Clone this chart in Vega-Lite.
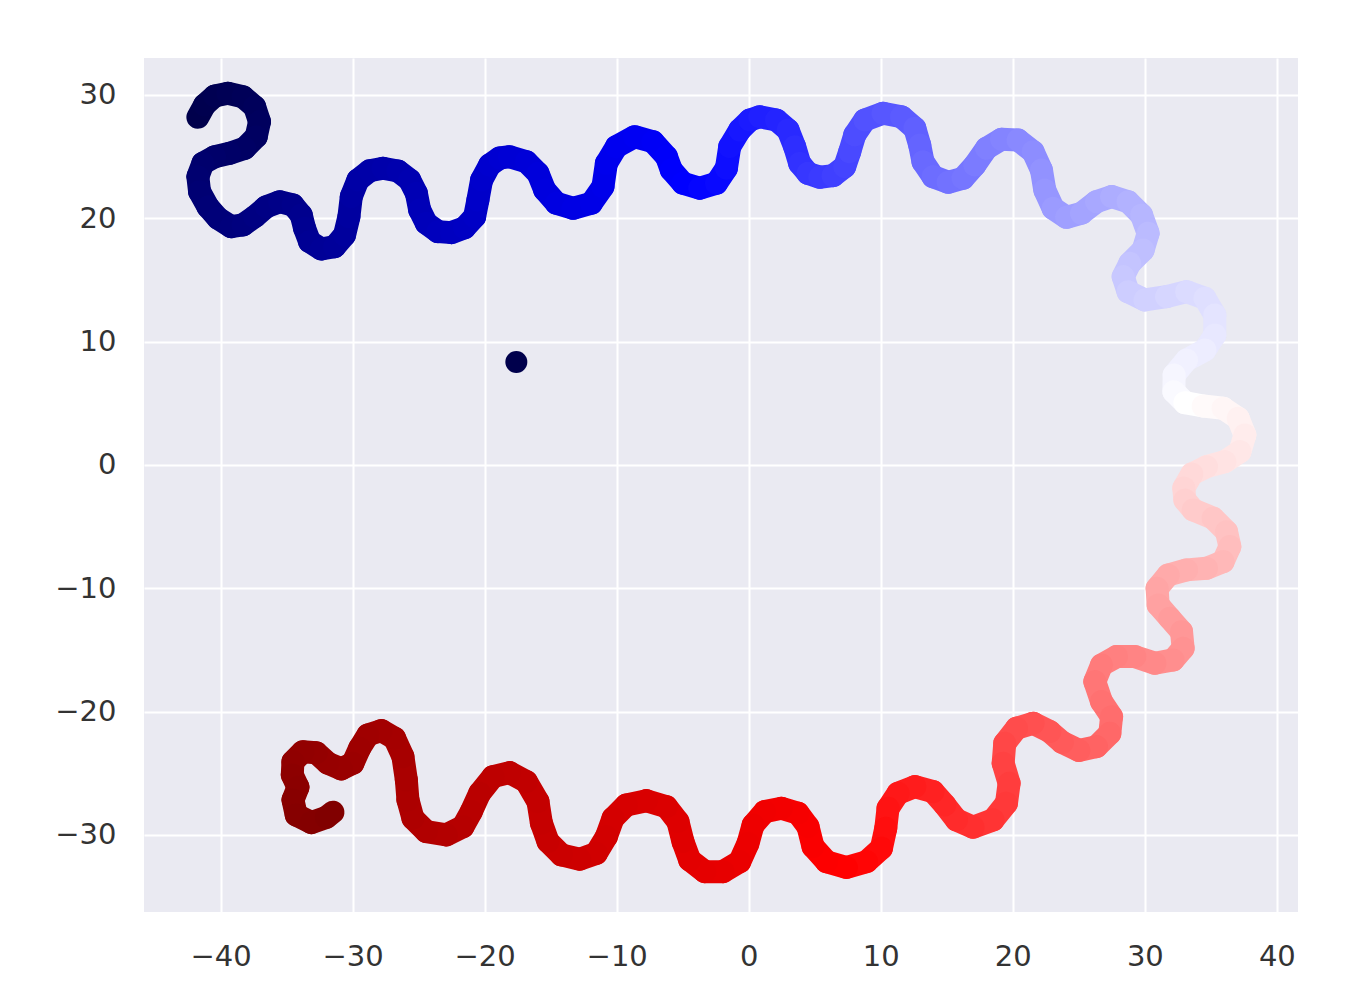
{
  "$schema": "https://vega.github.io/schema/vega-lite/v6.json",
  "width": 1154,
  "height": 854,
  "autosize": {"type": "none"},
  "padding": {"left": 144, "top": 58, "right": 55, "bottom": 95},
  "background": "white",
  "config": {
    "view": {"fill": "#eaeaf2", "stroke": null},
    "axis": {
      "domain": false,
      "ticks": false,
      "grid": true,
      "gridColor": "#ffffff",
      "gridWidth": 2,
      "labelFont": "DejaVu Sans",
      "labelFontSize": 29,
      "labelColor": "#333333",
      "title": null
    }
  },
  "datasets": {
    "path": [
      {"i":0,"x":-41.72,"y":28.19},{"i":1,"x":-41.21,"y":29.19},{"i":2,"x":-40.45,"y":29.92},{"i":3,"x":-39.45,"y":30.14},
      {"i":4,"x":-38.31,"y":29.86},{"i":5,"x":-37.42,"y":29.05},{"i":6,"x":-37.05,"y":27.84},{"i":7,"x":-37.3,"y":26.62},
      {"i":8,"x":-38.18,"y":25.68},{"i":9,"x":-39.32,"y":25.27},{"i":10,"x":-40.45,"y":25.0},{"i":11,"x":-41.34,"y":24.46},
      {"i":12,"x":-41.72,"y":23.38},{"i":13,"x":-41.59,"y":22.16},{"i":14,"x":-40.96,"y":20.94},{"i":15,"x":-40.2,"y":20.0},
      {"i":16,"x":-39.19,"y":19.32},{"i":17,"x":-38.31,"y":19.46},{"i":18,"x":-37.42,"y":20.13},{"i":19,"x":-36.54,"y":20.94},
      {"i":20,"x":-35.53,"y":21.35},{"i":21,"x":-34.52,"y":21.08},{"i":22,"x":-33.89,"y":20.27},{"i":23,"x":-33.64,"y":19.19},
      {"i":24,"x":-33.26,"y":18.11},{"i":25,"x":-32.37,"y":17.51},{"i":26,"x":-31.36,"y":17.7},{"i":27,"x":-30.61,"y":18.65},
      {"i":28,"x":-30.28,"y":20.13},{"i":29,"x":-30.1,"y":21.76},{"i":30,"x":-29.6,"y":23.11},{"i":31,"x":-28.71,"y":23.86},
      {"i":32,"x":-27.7,"y":24.06},{"i":33,"x":-26.57,"y":23.84},{"i":34,"x":-25.68,"y":23.11},{"i":35,"x":-25.17,"y":22.03},
      {"i":36,"x":-24.92,"y":20.68},{"i":37,"x":-24.42,"y":19.6},{"i":38,"x":-23.54,"y":18.92},{"i":39,"x":-22.52,"y":18.84},
      {"i":40,"x":-21.52,"y":19.24},{"i":41,"x":-20.76,"y":20.13},{"i":42,"x":-20.51,"y":21.49},{"i":43,"x":-20.23,"y":23.11},
      {"i":44,"x":-19.62,"y":24.32},{"i":45,"x":-18.86,"y":24.89},{"i":46,"x":-18.11,"y":25.0},{"i":47,"x":-16.84,"y":24.59},
      {"i":48,"x":-15.96,"y":23.65},{"i":49,"x":-15.45,"y":22.3},{"i":50,"x":-14.57,"y":21.22},{"i":51,"x":-13.31,"y":20.81},
      {"i":52,"x":-11.92,"y":21.22},{"i":53,"x":-11.04,"y":22.57},{"i":54,"x":-10.78,"y":24.46},{"i":55,"x":-10.02,"y":25.81},
      {"i":56,"x":-8.64,"y":26.62},{"i":57,"x":-7.25,"y":26.21},{"i":58,"x":-6.23,"y":25.0},{"i":59,"x":-5.86,"y":23.92},
      {"i":60,"x":-4.98,"y":22.84},{"i":61,"x":-3.71,"y":22.44},{"i":62,"x":-2.45,"y":22.84},{"i":63,"x":-1.69,"y":24.06},
      {"i":64,"x":-1.44,"y":25.81},{"i":65,"x":-0.68,"y":27.16},{"i":66,"x":0.08,"y":27.97},{"i":67,"x":0.83,"y":28.24},
      {"i":68,"x":2.1,"y":27.97},{"i":69,"x":2.98,"y":27.16},{"i":70,"x":3.48,"y":25.81},{"i":71,"x":3.86,"y":24.46},
      {"i":72,"x":4.49,"y":23.65},{"i":73,"x":5.38,"y":23.33},{"i":74,"x":6.39,"y":23.46},{"i":75,"x":7.27,"y":24.19},
      {"i":76,"x":7.65,"y":25.4},{"i":77,"x":8.03,"y":26.76},{"i":78,"x":8.79,"y":27.97},{"i":79,"x":10.17,"y":28.52},
      {"i":80,"x":11.57,"y":28.24},{"i":81,"x":12.58,"y":27.3},{"i":82,"x":12.95,"y":25.95},{"i":83,"x":13.2,"y":24.59},
      {"i":84,"x":13.96,"y":23.38},{"i":85,"x":15.1,"y":22.92},{"i":86,"x":16.23,"y":23.25},{"i":87,"x":17.12,"y":24.32},
      {"i":88,"x":18.01,"y":25.68},{"i":89,"x":19.14,"y":26.41},{"i":90,"x":20.4,"y":26.35},{"i":91,"x":21.54,"y":25.4},
      {"i":92,"x":22.17,"y":23.92},{"i":93,"x":22.42,"y":22.3},{"i":94,"x":23.05,"y":20.81},{"i":95,"x":24.07,"y":20.08},
      {"i":96,"x":25.2,"y":20.41},{"i":97,"x":26.34,"y":21.35},{"i":98,"x":27.48,"y":21.76},{"i":99,"x":28.73,"y":21.35},
      {"i":100,"x":29.75,"y":20.27},{"i":101,"x":30.25,"y":18.79},{"i":102,"x":29.87,"y":17.43},{"i":103,"x":28.86,"y":16.35},
      {"i":104,"x":28.36,"y":15.27},{"i":105,"x":28.73,"y":14.05},{"i":106,"x":30.0,"y":13.38},{"i":107,"x":31.64,"y":13.65},
      {"i":108,"x":33.16,"y":14.05},{"i":109,"x":34.55,"y":13.52},{"i":110,"x":35.3,"y":12.16},{"i":111,"x":35.3,"y":10.54},
      {"i":112,"x":34.55,"y":9.32},{"i":113,"x":33.16,"y":8.51},{"i":114,"x":32.22,"y":7.3},{"i":115,"x":32.2,"y":5.94},
      {"i":116,"x":33.03,"y":5.05},{"i":117,"x":34.42,"y":4.78},{"i":118,"x":35.93,"y":4.6},{"i":119,"x":37.07,"y":3.79},
      {"i":120,"x":37.58,"y":2.43},{"i":121,"x":37.2,"y":1.08},{"i":122,"x":36.06,"y":0.27},{"i":123,"x":34.67,"y":-0.14},
      {"i":124,"x":33.56,"y":-0.73},{"i":125,"x":32.95,"y":-1.86},{"i":126,"x":33.03,"y":-2.84},{"i":127,"x":33.66,"y":-3.65},
      {"i":128,"x":35.17,"y":-4.32},{"i":129,"x":36.19,"y":-5.41},{"i":130,"x":36.44,"y":-6.62},{"i":131,"x":35.93,"y":-7.84},
      {"i":132,"x":34.67,"y":-8.38},{"i":133,"x":33.16,"y":-8.51},{"i":134,"x":31.77,"y":-8.92},{"i":135,"x":30.93,"y":-10.0},
      {"i":136,"x":31.01,"y":-11.35},{"i":137,"x":31.89,"y":-12.43},{"i":138,"x":32.78,"y":-13.52},{"i":139,"x":32.9,"y":-14.86},
      {"i":140,"x":32.14,"y":-15.81},{"i":141,"x":30.76,"y":-16.08},{"i":142,"x":29.24,"y":-15.54},{"i":143,"x":27.86,"y":-15.54},
      {"i":144,"x":26.72,"y":-16.22},{"i":145,"x":26.21,"y":-17.57},{"i":146,"x":26.72,"y":-19.19},{"i":147,"x":27.48,"y":-20.41},
      {"i":148,"x":27.35,"y":-21.76},{"i":149,"x":26.34,"y":-22.84},{"i":150,"x":25.0,"y":-23.15},{"i":151,"x":23.75,"y":-22.5},
      {"i":152,"x":22.8,"y":-21.62},{"i":153,"x":21.54,"y":-20.94},{"i":154,"x":20.28,"y":-21.35},{"i":155,"x":19.39,"y":-22.57},
      {"i":156,"x":19.27,"y":-24.19},{"i":157,"x":19.72,"y":-25.81},{"i":158,"x":19.52,"y":-27.43},{"i":159,"x":18.51,"y":-28.78},
      {"i":160,"x":16.99,"y":-29.38},{"i":161,"x":15.73,"y":-28.78},{"i":162,"x":14.85,"y":-27.57},{"i":163,"x":13.96,"y":-26.49},
      {"i":164,"x":12.58,"y":-26.08},{"i":165,"x":11.31,"y":-26.62},{"i":166,"x":10.55,"y":-27.84},{"i":167,"x":10.38,"y":-29.46},
      {"i":168,"x":10.05,"y":-31.08},{"i":169,"x":8.92,"y":-32.17},{"i":170,"x":7.4,"y":-32.64},{"i":171,"x":5.89,"y":-32.17},
      {"i":172,"x":4.87,"y":-30.95},{"i":173,"x":4.49,"y":-29.33},{"i":174,"x":3.73,"y":-28.24},{"i":175,"x":2.48,"y":-27.84},
      {"i":176,"x":1.21,"y":-28.11},{"i":177,"x":0.33,"y":-29.19},{"i":178,"x":-0.05,"y":-30.67},{"i":179,"x":-0.68,"y":-32.17},
      {"i":180,"x":-1.95,"y":-32.98},{"i":181,"x":-3.33,"y":-32.98},{"i":182,"x":-4.47,"y":-32.03},{"i":183,"x":-4.98,"y":-30.54},
      {"i":184,"x":-5.36,"y":-28.92},{"i":185,"x":-6.23,"y":-27.71},{"i":186,"x":-7.75,"y":-27.22},{"i":187,"x":-9.27,"y":-27.57},
      {"i":188,"x":-10.28,"y":-28.65},{"i":189,"x":-10.78,"y":-30.14},{"i":190,"x":-11.54,"y":-31.49},{"i":191,"x":-12.8,"y":-31.97},
      {"i":192,"x":-14.19,"y":-31.62},{"i":193,"x":-15.2,"y":-30.54},{"i":194,"x":-15.7,"y":-29.05},{"i":195,"x":-15.96,"y":-27.3},
      {"i":196,"x":-16.84,"y":-25.68},{"i":197,"x":-18.11,"y":-24.95},{"i":198,"x":-19.37,"y":-25.27},{"i":199,"x":-20.38,"y":-26.62},
      {"i":200,"x":-21.01,"y":-28.11},{"i":201,"x":-21.64,"y":-29.33},{"i":202,"x":-22.9,"y":-30.0},{"i":203,"x":-24.42,"y":-29.73},
      {"i":204,"x":-25.43,"y":-28.65},{"i":205,"x":-25.81,"y":-27.16},{"i":206,"x":-25.93,"y":-25.54},{"i":207,"x":-26.19,"y":-23.65},
      {"i":208,"x":-26.82,"y":-22.16},{"i":209,"x":-27.83,"y":-21.54},{"i":210,"x":-28.84,"y":-21.89},{"i":211,"x":-29.47,"y":-22.97},
      {"i":212,"x":-29.98,"y":-24.19},{"i":213,"x":-30.86,"y":-24.65},{"i":214,"x":-31.87,"y":-24.19},{"i":215,"x":-32.75,"y":-23.33},
      {"i":216,"x":-33.77,"y":-23.25},{"i":217,"x":-34.52,"y":-24.06},{"i":218,"x":-34.57,"y":-25.14},{"i":219,"x":-34.14,"y":-26.13},
      {"i":220,"x":-34.52,"y":-27.16},{"i":221,"x":-34.27,"y":-28.38},{"i":222,"x":-33.13,"y":-29.0},{"i":223,"x":-31.99,"y":-28.57},
      {"i":224,"x":-31.49,"y":-28.16}
    ],
    "dot": [{"i": 0, "x": -17.6, "y": 8.35}]
  },
  "layer": [
    {
      "data": {"name": "path"},
      "transform": [
        {"window": [{"op": "lead", "field": "x", "as": "nx"}, {"op": "lead", "field": "y", "as": "ny"}], "sort": [{"field": "i"}]},
        {"filter": "datum.nx != null"}
      ],
      "mark": {"type": "rule", "strokeWidth": 23, "strokeCap": "round"},
      "encoding": {
        "x": {"field": "x", "type": "quantitative", "scale": {"domain": [-45.8, 41.6], "nice": false, "zero": false},
              "axis": {"values": [-40, -30, -20, -10, 0, 10, 20, 30, 40], "labelPadding": 30}},
        "y": {"field": "y", "type": "quantitative", "scale": {"domain": [-36.25, 33.0], "nice": false, "zero": false},
              "axis": {"values": [-30, -20, -10, 0, 10, 20, 30], "labelPadding": 28}},
        "x2": {"field": "nx"},
        "y2": {"field": "ny"},
        "color": {"field": "i", "type": "quantitative", "legend": null,
                  "scale": {"domain": [0, 60, 116, 170, 224], "range": ["#00004c", "#0000ff", "#ffffff", "#ff0000", "#7f0000"], "interpolate": "rgb"}}
      }
    },
    {
      "data": {"name": "dot"},
      "mark": {"type": "point", "filled": true, "opacity": 1, "size": 484},
      "encoding": {
        "x": {"field": "x", "type": "quantitative"},
        "y": {"field": "y", "type": "quantitative"},
        "color": {"field": "i", "type": "quantitative", "legend": null}
      }
    }
  ]
}
